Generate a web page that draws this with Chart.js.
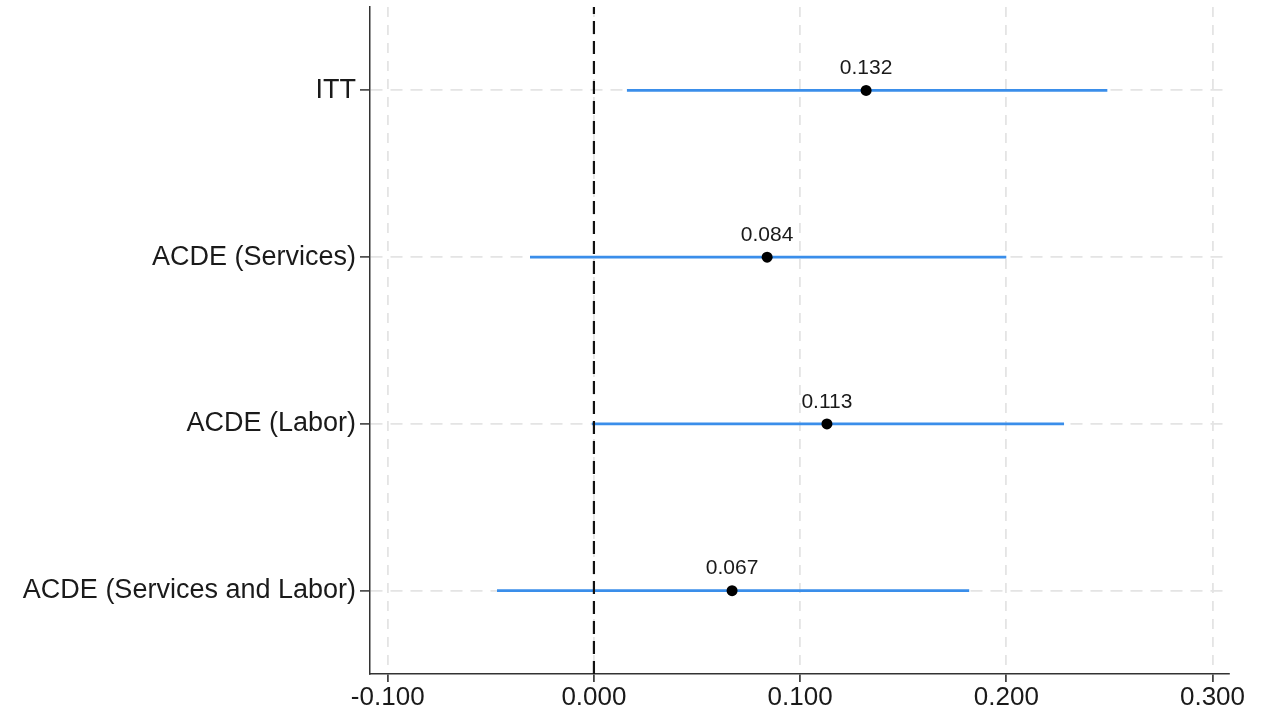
<!DOCTYPE html>
<html>
<head>
<meta charset="utf-8">
<script src="https://cdn.jsdelivr.net/npm/chart.js@4.4.0/dist/chart.umd.min.js"></script>
<style>
  html, body { margin: 0; padding: 0; background: #ffffff; }
  #wrap { width: 1269px; height: 715px; }
</style>
</head>
<body>
<div id="wrap"><canvas id="c" width="1269" height="715"></canvas></div>
<script>
const categories = ["ITT", "ACDE (Services)", "ACDE (Labor)", "ACDE (Services and Labor)"];
const estimates  = [0.132, 0.084, 0.113, 0.067];
const ciLow      = [0.016, -0.031, -0.001, -0.047];
const ciHigh     = [0.249, 0.200, 0.228, 0.182];
const xTicks     = [-0.1, 0.0, 0.1, 0.2, 0.3];
const refValue   = 0;

const n = categories.length;
const pos = categories.map((c, i) => n - i);

const ciColor = '#3A8EEA';
const gridColor = '#e4e4e4';
const textColor = '#1a1a1a';
const FONT = '"Liberation Sans", Arial, Helvetica, sans-serif';

const datasets = [];
// estimate points (on top)
datasets.push({
  type: 'scatter',
  data: estimates.map((v, i) => ({ x: v, y: pos[i] })),
  pointRadius: 5.5,
  pointBackgroundColor: '#000000',
  pointBorderColor: '#000000',
  pointBorderWidth: 0,
  showLine: false,
  order: 0
});
// reference line at zero
datasets.push({
  type: 'line',
  data: [{ x: refValue, y: 0.5 }, { x: refValue, y: n + 0.5 }],
  borderColor: '#111111',
  borderWidth: 2.2,
  borderDash: [13, 7],
  pointRadius: 0,
  fill: false,
  order: 1
});
// confidence intervals
categories.forEach((c, i) => {
  datasets.push({
    type: 'line',
    data: [{ x: ciLow[i], y: pos[i] }, { x: ciHigh[i], y: pos[i] }],
    borderColor: ciColor,
    borderWidth: 2.6,
    pointRadius: 0,
    fill: false,
    order: 2
  });
});

const labelPlugin = {
  id: 'estLabels',
  afterDatasetsDraw(chart) {
    const ctx = chart.ctx;
    const xs = chart.scales.x, ys = chart.scales.y;
    ctx.save();
    ctx.font = '21px ' + FONT;
    ctx.fillStyle = textColor;
    ctx.textAlign = 'center';
    ctx.textBaseline = 'middle';
    estimates.forEach((v, i) => {
      const px = xs.getPixelForValue(v);
      const py = ys.getPixelForValue(pos[i]);
      ctx.fillText(v.toFixed(3), px, py - 22);
    });
    ctx.restore();
  }
};

new Chart(document.getElementById('c'), {
  type: 'scatter',
  data: { datasets },
  plugins: [labelPlugin],
  options: {
    responsive: false,
    animation: false,
    layout: { padding: { top: 7, right: 40, left: 0, bottom: 0 } },
    plugins: { legend: { display: false }, tooltip: { enabled: false } },
    scales: {
      x: {
        type: 'linear',
        min: -0.1086,
        max: 0.308,
        afterBuildTicks(scale) { scale.ticks = xTicks.map(v => ({ value: v })); },
        afterFit(scale) { scale.height = 41; scale.paddingLeft = 0; scale.paddingRight = 0; },
        ticks: {
          callback: v => (v < 0 ? '-' : '') + Math.abs(v).toFixed(3),
          font: { size: 26, family: FONT },
          color: textColor,
          padding: 0,
          maxRotation: 0,
          autoSkip: false
        },
        grid: {
          color: gridColor,
          lineWidth: 1.8,
          tickColor: '#444444',
          tickLength: 8,
          tickWidth: 1.8,
          tickBorderDash: []
        },
        border: { display: true, color: '#333333', width: 1.5, dash: [10, 8] }
      },
      y: {
        type: 'linear',
        min: 0.5,
        max: n + 0.5,
        afterBuildTicks(scale) { scale.ticks = pos.map(v => ({ value: v })); },
        afterFit(scale) { scale.width = 370; scale.paddingTop = 0; scale.paddingBottom = 0; },
        ticks: {
          callback: v => categories[n - v],
          font: { size: 27, family: FONT },
          color: textColor,
          padding: 4,
          autoSkip: false
        },
        grid: {
          color: gridColor,
          lineWidth: 1.8,
          tickColor: '#333333',
          tickLength: 10,
          tickWidth: 1.5,
          tickBorderDash: []
        },
        border: { display: true, color: '#333333', width: 1.5, dash: [12, 8] }
      }
    }
  }
});
</script>
</body>
</html>
